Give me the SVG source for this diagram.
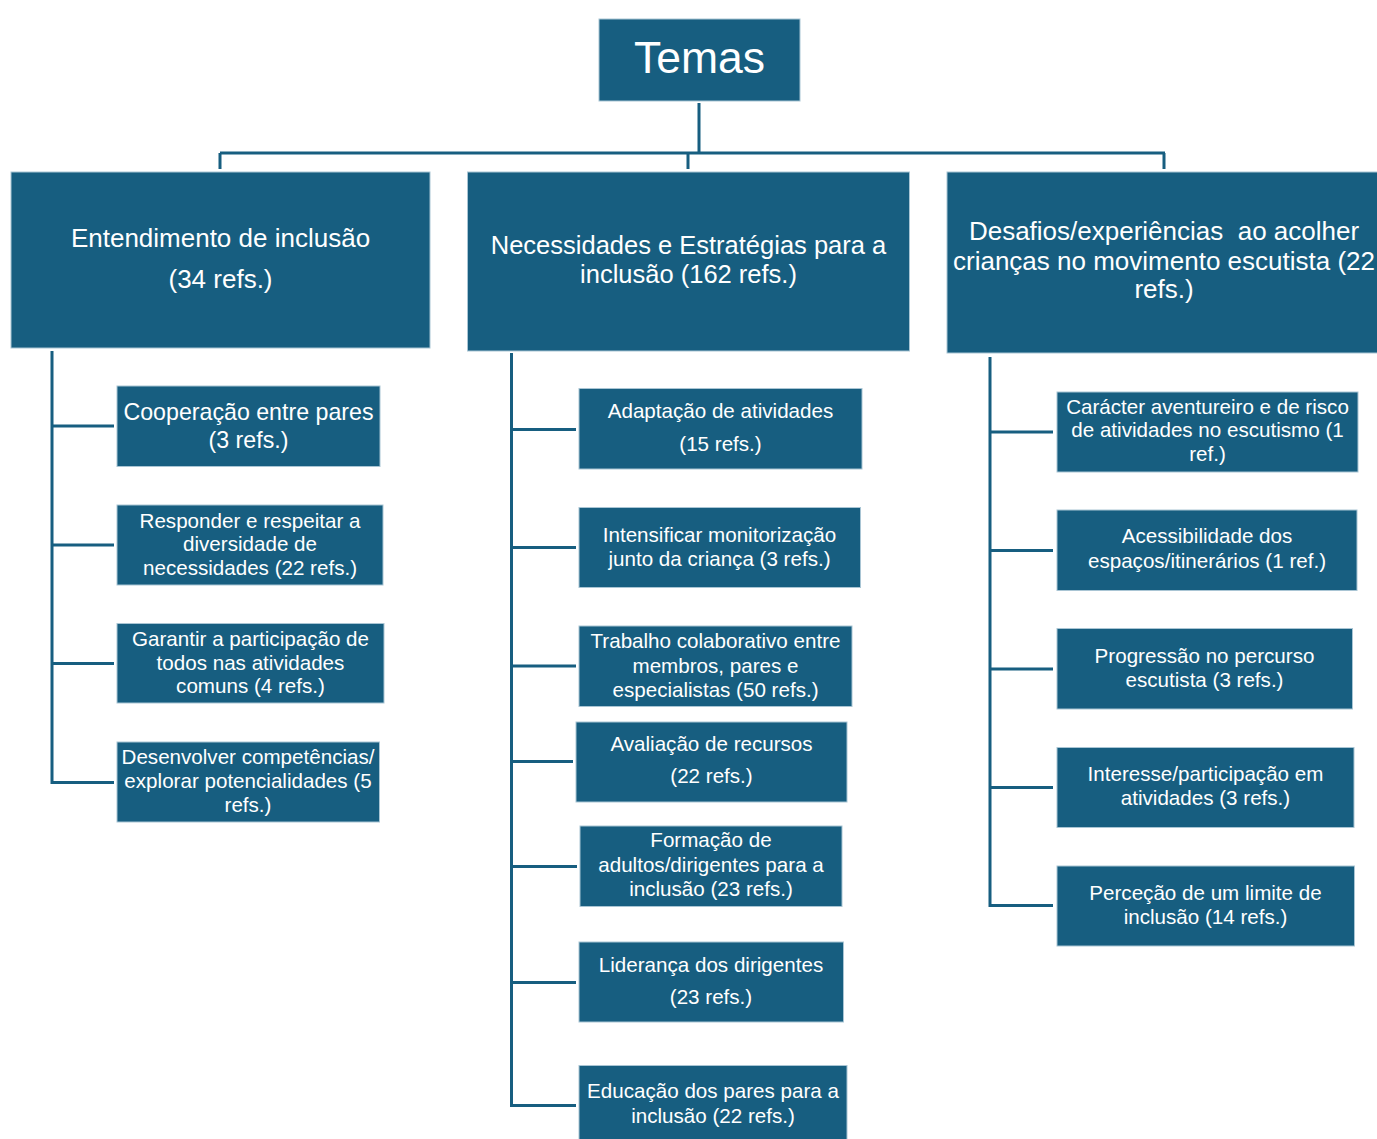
<svg xmlns="http://www.w3.org/2000/svg" width="1377" height="1139" viewBox="0 0 1377 1139">
<style>
.box{fill:#175e80;stroke:#a9c5d4;stroke-width:1}
text{font-family:"Liberation Sans",Arial,sans-serif;fill:#ffffff;text-anchor:middle;white-space:pre}
.t0{font-size:44.5px}
.t1{font-size:26px}
.t1n{font-size:25.5px}
.t2{font-size:20.6px}
.t2b{font-size:23.2px}
.con{fill:none;stroke:#175e80;stroke-width:3}
</style>
<rect width="1377" height="1139" fill="#ffffff"/>
<g id="connectors" class="con">
<path d="M699 103V153M220 153H1165M220 153V169M688 153V169M1164 153V169"/>
<path d="M52 351V782.5H114M52 426H114M52 545H114M52 663.5H114"/>
<path d="M511.5 353V1105.5H576M511.5 429.5H576M511.5 547.5H576M511.5 666H576M511.5 761.5H573M511.5 866.5H577M511.5 982.5H576"/>
<path d="M990 357V905.5H1053M990 432H1053M990 550.5H1053M990 669H1053M990 787.5H1053"/>
</g>
<g id="temas"><rect class="box" x="599" y="19" width="201" height="82"/><text class="t0" x="699.5" y="73">Temas</text></g>
<g id="entendimento"><rect class="box" x="11" y="172" width="419" height="176"/><text class="t1" x="220.5" y="247">Entendimento de inclusão</text><text class="t1" x="220.5" y="288">(34 refs.)</text></g>
<g id="necessidades"><rect class="box" x="467.5" y="172" width="442" height="179"/><text class="t1n" x="688.5" y="254">Necessidades e Estratégias para a</text><text class="t1n" x="688.5" y="283">inclusão (162 refs.)</text></g>
<g id="desafios"><rect class="box" x="947" y="172" width="432" height="181"/><text class="t1" x="1164" y="240" xml:space="preserve">Desafios/experiências  ao acolher</text><text class="t1" x="1164" y="270">crianças no movimento escutista (22</text><text class="t1" x="1164" y="298">refs.)</text></g>
<g id="cooperacao"><rect class="box" x="117" y="386" width="263" height="80.5"/><text class="t2b" x="248.5" y="420">Cooperação entre pares</text><text class="t2b" x="248.5" y="448">(3 refs.)</text></g>
<g id="responder"><rect class="box" x="117" y="505" width="266" height="80"/><text class="t2" x="250" y="527.5">Responder e respeitar a</text><text class="t2" x="250" y="551">diversidade de</text><text class="t2" x="250" y="574.5">necessidades (22 refs.)</text></g>
<g id="garantir"><rect class="box" x="117" y="623.5" width="267" height="79.5"/><text class="t2" x="250.5" y="645.5">Garantir a participação de</text><text class="t2" x="250.5" y="669.5">todos nas atividades</text><text class="t2" x="250.5" y="693">comuns (4 refs.)</text></g>
<g id="desenvolver"><rect class="box" x="117" y="742" width="262.5" height="80"/><text class="t2" x="248" y="764">Desenvolver competências/</text><text class="t2" x="248" y="788">explorar potencialidades (5</text><text class="t2" x="248" y="811.5">refs.)</text></g>
<g id="adaptacao"><rect class="box" x="579" y="388.5" width="283" height="80.5"/><text class="t2" x="720.5" y="418">Adaptação de atividades</text><text class="t2" x="720.5" y="451">(15 refs.)</text></g>
<g id="intensificar"><rect class="box" x="579" y="507.5" width="281.5" height="80"/><text class="t2" x="719.5" y="541.5">Intensificar monitorização</text><text class="t2" x="719.5" y="565.5">junto da criança (3 refs.)</text></g>
<g id="trabalho"><rect class="box" x="579" y="626" width="273" height="80.5"/><text class="t2" x="715.5" y="648">Trabalho colaborativo entre</text><text class="t2" x="715.5" y="672.5">membros, pares e</text><text class="t2" x="715.5" y="696.5">especialistas (50 refs.)</text></g>
<g id="avaliacao"><rect class="box" x="576" y="722" width="271" height="80"/><text class="t2" x="711.5" y="750.5">Avaliação de recursos</text><text class="t2" x="711.5" y="783">(22 refs.)</text></g>
<g id="formacao"><rect class="box" x="580" y="826" width="262" height="80.5"/><text class="t2" x="711" y="847">Formação de</text><text class="t2" x="711" y="871.5">adultos/dirigentes para a</text><text class="t2" x="711" y="895.5">inclusão (23 refs.)</text></g>
<g id="lideranca"><rect class="box" x="579" y="942" width="264.5" height="80"/><text class="t2" x="711" y="971.5">Liderança dos dirigentes</text><text class="t2" x="711" y="1004">(23 refs.)</text></g>
<g id="educacao"><rect class="box" x="579" y="1065.5" width="268" height="80"/><text class="t2" x="713" y="1098">Educação dos pares para a</text><text class="t2" x="713" y="1123">inclusão (22 refs.)</text></g>
<g id="caracter"><rect class="box" x="1057" y="392" width="301" height="80"/><text class="t2" x="1207.5" y="413.5">Carácter aventureiro e de risco</text><text class="t2" x="1207.5" y="437">de atividades no escutismo (1</text><text class="t2" x="1207.5" y="460.5">ref.)</text></g>
<g id="acessibilidade"><rect class="box" x="1057" y="510" width="300" height="80.5"/><text class="t2" x="1207" y="543">Acessibilidade dos</text><text class="t2" x="1207" y="567.5">espaços/itinerários (1 ref.)</text></g>
<g id="progressao"><rect class="box" x="1057" y="628.5" width="295.5" height="80.5"/><text class="t2" x="1204.5" y="663">Progressão no percurso</text><text class="t2" x="1204.5" y="687">escutista (3 refs.)</text></g>
<g id="interesse"><rect class="box" x="1057" y="747.5" width="297" height="80"/><text class="t2" x="1205.5" y="781">Interesse/participação em</text><text class="t2" x="1205.5" y="805">atividades (3 refs.)</text></g>
<g id="percecao"><rect class="box" x="1057" y="866" width="297.5" height="80"/><text class="t2" x="1205.5" y="900">Perceção de um limite de</text><text class="t2" x="1205.5" y="923.5">inclusão (14 refs.)</text></g>
</svg>
